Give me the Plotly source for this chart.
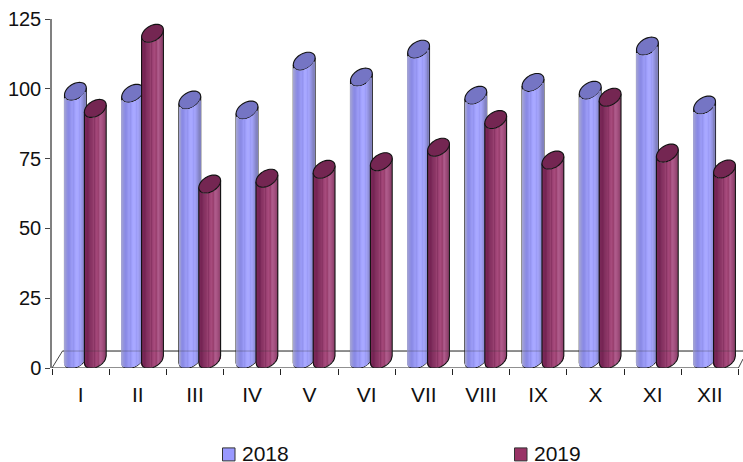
import math
import plotly.graph_objects as go

months = ["I", "II", "III", "IV", "V", "VI", "VII", "VIII", "IX", "X", "XI", "XII"]
y2018 = [96.0, 95.3, 92.9, 89.3, 106.8, 101.1, 111.1, 94.6, 99.2, 96.4, 112.2, 91.1]
y2019 = [89.9, 116.8, 62.8, 64.9, 68.1, 70.8, 76.0, 85.9, 71.4, 93.9, 73.9, 68.2]
y_ticks = [0, 25, 50, 75, 100, 125]

# picture scale
W, H = 743, 462
L, T, B = 52, 18.6, 368
PX = 57.2          # pixels per category
PY = (B - T) / 125 # pixels per value unit
xmax = (W - L) / PX
dx = lambda p: p / PX
dy = lambda p: p / PY

A = 10.9      # half width of cylinder, px
S = 3.5       # tilt of ellipse, px
E = 8.3       # half height of ellipse, px
BASE = dy(8.6)   # cylinders stand in the middle of the 3D floor
OFF = {"a": 12.5 + A, "b": 32.4 + A}

ramp_a = ["#a3a3d4", "#9c9cd8", "#9494dc", "#8e8ee2", "#8a8ae4", "#8c8ce8", "#9292ee", "#9999f2",
          "#9999f6", "#9494f0", "#9c9cf8", "#a4a4ff", "#a8a8ff", "#a8a8ff", "#a4a4ff", "#9c9cf6",
          "#a2a2fa", "#a0a0f4", "#9898e8", "#9090dc", "#8888cc", "#8282c0"]
ramp_b = ["#7c2a5a", "#7a2858", "#782656", "#762454", "#7a2858", "#80305e", "#863262", "#8a3464",
          "#8e3868", "#96406f", "#8a3464", "#9a4072", "#a24678", "#a64a7c", "#a04474", "#9a4070",
          "#a85484", "#ae5a8a", "#aa5686", "#a45080", "#9c4a78", "#924470"]
top_a, top_b = "#7575c4", "#742652"
legend_a, legend_b = "#9999ff", "#993366"


def lower(u):
    """Pixel height of the lower rim of a tilted ellipse above its centre."""
    return S * u - E * math.sqrt(max(0.0, 1 - u * u))


def ellipse(cx, val):
    pts = []
    for k in range(48):
        t = 2 * math.pi * k / 48
        px = A * math.cos(t)
        up = S * math.cos(t) + E * math.sin(t)
        pts.append((cx + dx(px), val + dy(up)))
    return "M" + "L".join(f"{a:.4f},{b:.4f}" for a, b in pts) + "Z"


def outline(cx, val):
    pts = [(cx - dx(A), val + dy(-S)), (cx - dx(A), BASE + dy(-S))]
    for k in range(1, 24):
        u = -1 + 2 * k / 24
        pts.append((cx + dx(A * u), BASE + dy(lower(u))))
    pts += [(cx + dx(A), BASE + dy(S)), (cx + dx(A), val + dy(S))]
    return "M" + "L".join(f"{a:.4f},{b:.4f}" for a, b in pts)


fig = go.Figure()
shapes = []
LW = dict(color="#111111", width=1.1)


def series(values, off, ramp, top, layer):
    n = len(ramp)
    sw = (2 * A - 0.8) / n
    for k, col in enumerate(ramp):
        p = -A + 0.4 + sw * (k + 0.5)
        u = p / A
        xs = [i + dx(off + p) for i in range(len(values))]
        base = [BASE + dy(lower(u) + 0.5) for _ in values]
        tops = [BASE + v + dy(lower(u) - 0.5) for v in values]
        fig.add_trace(go.Bar(x=xs, y=[t - b for t, b in zip(tops, base)], base=base,
                             width=dx(sw + 0.35), marker=dict(color=col, line=dict(width=0)),
                             showlegend=False, hoverinfo="skip", cliponaxis=False))
    for i, v in enumerate(values):
        cx = i + dx(off)
        shapes.append(dict(type="path", path=outline(cx, BASE + v), xref="x", yref="y", line=LW, layer=layer))
        shapes.append(dict(type="path", path=ellipse(cx, BASE + v), xref="x", yref="y", line=LW,
                           fillcolor=top, layer=layer))


# floor lines
back = dy(17)
floor = dict(color="#444444", width=1)
shapes += [
    dict(type="line", xref="x", yref="y", x0=0, y0=0, x1=dx(10.5), y1=back, line=floor, layer="below"),
    dict(type="line", xref="x", yref="y", x0=dx(10.5), y0=back, x1=xmax, y1=back, line=floor, layer="below"),
    dict(type="line", xref="x", yref="y", x0=12, y0=0, x1=xmax, y1=dy(9), line=floor, layer="below"),
]
series(y2018, OFF["a"], ramp_a, top_a, "below")
series(y2019, OFF["b"], ramp_b, top_b, "above")
shapes += [
    dict(type="line", xref="x", yref="y", x0=dx(10.5), y0=back, x1=xmax, y1=back,
         line=dict(color="rgba(60,60,60,0.35)", width=1), layer="above"),
    dict(type="line", xref="x", yref="y", x0=0, y0=0, x1=12, y1=0,
         line=dict(color="#222222", width=1.2), layer="above"),
]

# legend
for px0, col in ((222.5, legend_a), (514.5, legend_b)):
    shapes.append(dict(type="rect", xref="paper", yref="paper",
                       x0=(px0 - L) / (W - L), x1=(px0 + 12.5 - L) / (W - L),
                       y0=(B - 448) / (B - T), y1=(B - 461) / (B - T),
                       fillcolor=col, line=dict(color="#333333", width=1)))
ann = [dict(xref="paper", yref="paper", x=(px - L) / (W - L), y=(B - 454) / (B - T), text=t,
            showarrow=False, xanchor="left", yanchor="middle", font=dict(size=21, color="#111111"))
       for px, t in ((240, "2018"), (532, "2019"))]

fig.update_layout(
    width=W, height=H, barmode="overlay", showlegend=False,
    paper_bgcolor="white", plot_bgcolor="white",
    margin=dict(l=L, r=0, t=T, b=H - B, autoexpand=False),
    font=dict(family="Liberation Sans, Arial, sans-serif", size=20, color="#111111"),
    shapes=shapes, annotations=ann,
    xaxis=dict(range=[0, xmax], showgrid=False, zeroline=False, showline=False,
               tickmode="array", tickvals=[i + 0.5 for i in range(12)], ticktext=months,
               tickfont=dict(size=21),
               ticks="outside", ticklen=0, tickcolor="white", ticklabelstandoff=8,
               minor=dict(tickmode="array", tickvals=list(range(13)), ticks="outside", ticklen=6,
                          tickcolor="#222222", tickwidth=1.2, showgrid=False)),
    yaxis=dict(range=[0, 125], tickmode="array", tickvals=y_ticks, showgrid=False, zeroline=False,
               showline=True, linecolor="#808080", linewidth=1.5,
               ticks="outside", ticklen=5, tickcolor="#444444", tickwidth=1),
)
fig.write_html("out.html", config={"displayModeBar": False},
               default_width=f"{W}px", default_height=f"{H}px",
               post_script="document.body.style.margin='0';document.body.style.overflow='hidden';")
